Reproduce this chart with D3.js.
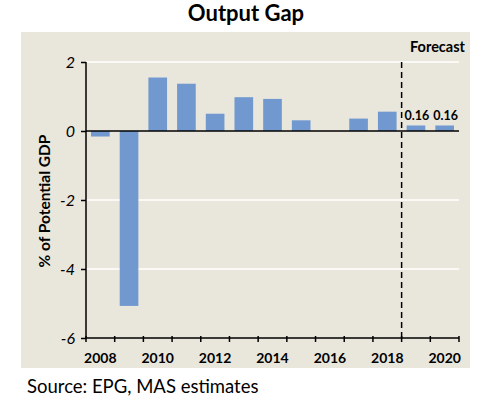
<!DOCTYPE html>
<html>
<head>
<meta charset="utf-8">
<script src="https://cdn.jsdelivr.net/npm/d3@7"></script>
<style>
  body { margin: 0; background: #fff; }
  text { font-family: Lato, "Open Sans", sans-serif; fill: #000; }
</style>
</head>
<body>
<div id="chart"></div>
<script>
// chart values
var years = [2008, 2009, 2010, 2011, 2012, 2013, 2014, 2015, 2016, 2017, 2018, 2019, 2020];
var gap = [-0.16, -5.07, 1.55, 1.37, 0.5, 0.98, 0.93, 0.31, 0, 0.36, 0.56, 0.16, 0.16];
var yTicks = [-6, -4, -2, 0, 2];
var xTickLabels = [2008, 2010, 2012, 2014, 2016, 2018, 2020];
var labelled = [2019, 2020];
var forecastFrom = 2019;

var svg = d3.select("#chart")
        .append("svg")
        .attr("width", 490)
        .attr("height", 396)

// beige panel
svg.append("rect")
    .attr("x", 21).attr("y", 32)
    .attr("width", 449).attr("height", 336)
    .attr("fill", "#e9e6dc")

var x = d3.scaleBand().domain(years).range([86, 459]).paddingInner(0.35).paddingOuter(0.175);
var y = d3.scaleLinear().domain([-6, 2]).range([338, 62]);

// white gridlines
svg.selectAll(".grid")
    .data(yTicks.filter(function(d) { return d != 0 && d != -6 }))
    .enter()
    .append("line")
    .attr("class", "grid")
    .attr("x1", 86).attr("x2", 459)
    .attr("y1", function(d) { return y(d) })
    .attr("y2", function(d) { return y(d) })
    .attr("stroke", "#fff")
    .attr("stroke-width", 1.5)

// bars
svg.selectAll(".bar")
    .data(years)
    .enter()
    .append("rect")
    .attr("class", "bar")
    .attr("x", function(d) { return x(d) })
    .attr("width", x.bandwidth())
    .attr("y", function(d, i) { return y(Math.max(0, gap[i])) })
    .attr("height", function(d, i) { return Math.abs(y(gap[i]) - y(0)) })
    .attr("fill", "#7199cf")

// value labels on the forecast bars
svg.selectAll(".val")
    .data(labelled)
    .enter()
    .append("text")
    .attr("class", "val")
    .attr("x", function(d) { return x(d) + x.bandwidth() / 2 + 1 })
    .attr("y", function(d) { return y(gap[years.indexOf(d)]) - 5 })
    .attr("text-anchor", "middle")
    .attr("font-size", 12.5)
    .attr("font-weight", "bold")
    .text(function(d) { return gap[years.indexOf(d)].toFixed(2) })

// zero line
svg.append("line")
    .attr("x1", 86).attr("x2", 459)
    .attr("y1", y(0)).attr("y2", y(0))
    .attr("stroke", "#000").attr("stroke-width", 1.5)

// forecast divider
var xDiv = x(forecastFrom) - x.step() * x.paddingInner() / 2;
svg.append("line")
    .attr("x1", xDiv).attr("x2", xDiv)
    .attr("y1", y(2)).attr("y2", y(-6))
    .attr("stroke", "#000").attr("stroke-width", 1.5)
    .attr("stroke-dasharray", "6,4")

svg.append("text")
    .attr("x", 465).attr("y", 52)
    .attr("text-anchor", "end")
    .attr("font-size", 14.5)
    .attr("font-weight", "bold")
    .text("Forecast")

// y axis
var yAxis = d3.axisLeft(y).tickValues(yTicks).tickSize(5).tickFormat(function(d) { return String(d) });
var gy = svg.append("g").attr("transform", "translate(86,0)").call(yAxis);
gy.select(".domain").attr("stroke", "#000").attr("stroke-width", 1.5).attr("d", "M0," + y(2) + "V" + y(-6));
gy.selectAll(".tick line").attr("stroke", "#000").attr("stroke-width", 1.5);
gy.selectAll(".tick text")
    .attr("x", -11)
    .attr("font-family", "Lato, sans-serif")
    .attr("font-size", 16)
    .attr("font-style", "italic")
    .attr("fill", "#000")

// x axis: ticks at the band edges, labels every other year
svg.append("line")
    .attr("x1", 86).attr("x2", 459)
    .attr("y1", y(-6)).attr("y2", y(-6))
    .attr("stroke", "#000").attr("stroke-width", 1.5)

var edges = years.map(function(d) { return x(d) - x.step() * x.paddingInner() / 2 });
edges.push(x(years[years.length - 1]) + x.bandwidth() + x.step() * x.paddingInner() / 2);
svg.selectAll(".xtick")
    .data(edges)
    .enter()
    .append("line")
    .attr("class", "xtick")
    .attr("x1", function(d) { return d }).attr("x2", function(d) { return d })
    .attr("y1", y(-6) - 2).attr("y2", y(-6) + 4)
    .attr("stroke", "#000").attr("stroke-width", 1.5)

svg.selectAll(".xlab")
    .data(xTickLabels)
    .enter()
    .append("text")
    .attr("class", "xlab")
    .attr("x", function(d) { return x(d) + x.bandwidth() / 2 })
    .attr("y", 363)
    .attr("text-anchor", "middle")
    .attr("font-size", 14)
    .attr("font-weight", "bold")
    .text(function(d) { return d })

// y axis title
svg.append("text")
    .attr("transform", "translate(50,201) rotate(-90)")
    .attr("text-anchor", "middle")
    .attr("font-size", 15.5)
    .attr("font-weight", "bold")
    .text("% of Potential GDP")

// title
svg.append("text")
    .attr("x", 246).attr("y", 21)
    .attr("text-anchor", "middle")
    .attr("font-size", 22)
    .attr("font-weight", "bold")
    .text("Output Gap")

// source
svg.append("text")
    .attr("x", 27).attr("y", 393)
    .attr("font-size", 18.5)
    .text("Source: EPG, MAS estimates")
</script>
</body>
</html>
